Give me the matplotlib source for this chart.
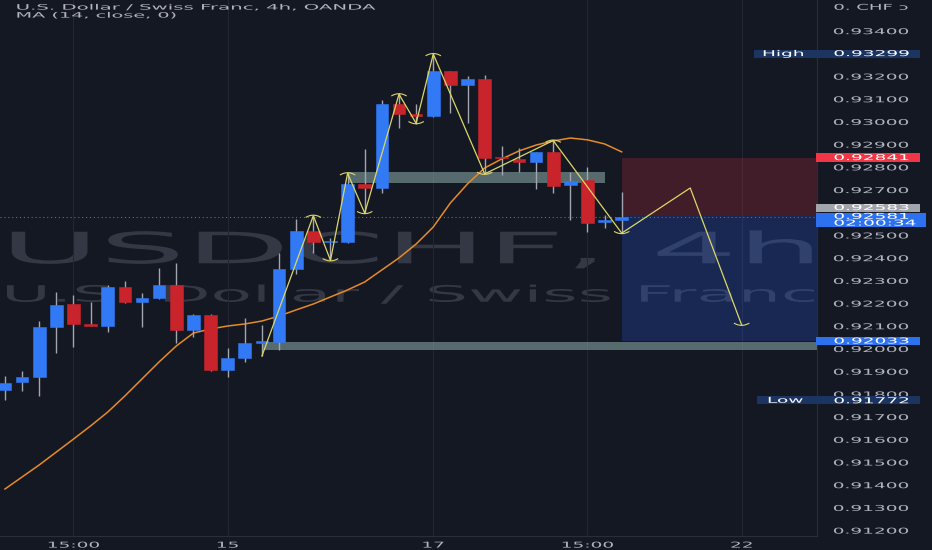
import numpy as np
import matplotlib
matplotlib.use("Agg")
import matplotlib.pyplot as plt
from matplotlib import patheffects
from matplotlib.patches import Rectangle
from matplotlib.transforms import Affine2D, IdentityTransform

# ---- values (USDCHF 4h) ----
candle_open = [0.91817, 0.91851, 0.91876, 0.92096, 0.92195, 0.92108, 0.92099, 0.92270,
               0.92204, 0.92224, 0.92280, 0.92082, 0.92149, 0.91905, 0.91960, 0.92026,
               0.92030, 0.92350, 0.92518, 0.92468, 0.92471, 0.92723, 0.92708, 0.93076,
               0.93033, 0.93024, 0.93222, 0.93161, 0.93187, 0.92839, 0.92835, 0.92823,
               0.92864, 0.92719, 0.92742, 0.92559, 0.92566]
candle_high = [0.91879, 0.91902, 0.92122, 0.92248, 0.92236, 0.92204, 0.92280, 0.92297,
               0.92243, 0.92353, 0.92378, 0.92150, 0.92150, 0.92001, 0.92136, 0.92104,
               0.92419, 0.92571, 0.92584, 0.92487, 0.92772, 0.92878, 0.93095, 0.93124,
               0.93077, 0.93299, 0.93224, 0.93200, 0.93205, 0.92892, 0.92882, 0.92864,
               0.92919, 0.92779, 0.92801, 0.92588, 0.92691]
candle_low = [0.91772, 0.91814, 0.91791, 0.91982, 0.92005, 0.92097, 0.92074, 0.92202,
              0.92096, 0.92218, 0.92026, 0.92049, 0.91903, 0.91876, 0.91939, 0.91967,
              0.91993, 0.92328, 0.92419, 0.92388, 0.92463, 0.92596, 0.92686, 0.92970,
              0.92989, 0.93021, 0.93036, 0.92992, 0.92772, 0.92764, 0.92779, 0.92701,
              0.92684, 0.92566, 0.92515, 0.92530, 0.92508]
candle_close = [0.91849, 0.91876, 0.92093, 0.92192, 0.92108, 0.92099, 0.92270, 0.92204,
                0.92224, 0.92280, 0.92082, 0.92149, 0.91905, 0.91957, 0.92026, 0.92028,
                0.92350, 0.92519, 0.92468, 0.92474, 0.92725, 0.92708, 0.93077, 0.93032,
                0.93023, 0.93222, 0.93161, 0.93187, 0.92838, 0.92837, 0.92823, 0.92864,
                0.92717, 0.92739, 0.92554, 0.92566, 0.92581]
ma14 = [0.91381, 0.91434, 0.91487, 0.91544, 0.91601, 0.91659, 0.91720, 0.91791,
        0.91866, 0.91941, 0.92011, 0.92068, 0.92086, 0.92099, 0.92108, 0.92121,
        0.92143, 0.92170, 0.92196, 0.92227, 0.92258, 0.92293, 0.92346, 0.92399,
        0.92460, 0.92535, 0.92641, 0.92725, 0.92795, 0.92835, 0.92870, 0.92896,
        0.92914, 0.92927, 0.92919, 0.92901, 0.92866]

zigzag_idx = [15, 18, 19, 20, 21, 23, 24, 25, 28, 32, 36, 40, 43]
zigzag_price = [0.91967, 0.92585, 0.92388, 0.92772, 0.92596, 0.93120, 0.92992,
                0.93297, 0.92769, 0.92916, 0.92508, 0.92707, 0.92104]
zigzag_kind = ["L", "H", "L", "H", "L", "H", "L", "H", "L", "H", "L", "H", "L"]

zone_start = [20, 15]
zone_end = [35, 47.4]
zone_top = [0.92778, 0.92030]
zone_bottom = [0.92729, 0.91995]

position_start = 36
stop_price = 0.92841
entry_price = 0.92583
target_price = 0.92033
last_price = 0.92581
countdown = "02:00:34"
high_price = 0.93299
low_price = 0.91772

price_ticks = np.round(np.arange(0.912, 0.9345, 0.001), 3)
hidden_ticks = [0.926]  # covered by the entry / last price tags
time_tick_idx = [4, 13, 25, 34, 43]
time_tick_labels = ["15:00", "15", "17", "15:00", "22"]

# ---- style ----
W, H, DPI = 932, 550, 100
BG = "#141823"
UP = "#3179f5"
DOWN = "#c9242b"
WICK = "#a3a6af"
TXT = "#b2b5be"
GRID = "#232733"
MA_C = "#e88a26"
ZZ_C = "#dcd76a"
WM = "#343844"
SMALL = 5.8
SX = 2.3


class Stretch(patheffects.AbstractPathEffect):
    """Widen text glyphs horizontally (by factor or to a target pixel width)."""

    def __init__(self, sx=None, width=None, anchor="left"):
        super().__init__()
        self.sx, self.width, self.anchor = sx, width, anchor

    def draw_path(self, renderer, gc, tpath, affine, rgbFace=None):
        ext = affine.transform_path(tpath).get_extents()
        sx = self.sx if self.width is None else self.width / max(ext.width, 1e-6)
        x0 = {"left": ext.x0, "center": (ext.x0 + ext.x1) / 2, "right": ext.x1}[self.anchor]
        t = affine + Affine2D().translate(-x0, 0).scale(sx, 1).translate(x0, 0)
        renderer.draw_path(gc, tpath, t, rgbFace)


fig = plt.figure(figsize=(W / DPI, H / DPI), dpi=DPI, facecolor=BG)
ax = fig.add_axes([0, (H - 536) / H, 817 / W, 536 / H])
ax.set_facecolor(BG)
ax.set_xlim(-0.29, 47.4)
ax.set_ylim(0.91174, 0.93535)

# watermark
ax.text(8, H - 263.3, "USDCHF, 4h", transform=IdentityTransform(), fontsize=31.2,
        color=WM, ha="left", va="baseline", zorder=0.5,
        path_effects=[Stretch(width=800)])
ax.text(5, H - 301.7, "U.S. Dollar / Swiss Franc", transform=IdentityTransform(),
        fontsize=16.3, color=WM, ha="left", va="baseline", zorder=0.5,
        path_effects=[Stretch(width=807)])

# zones
for s, e, t, b in zip(zone_start, zone_end, zone_top, zone_bottom):
    ax.add_patch(Rectangle((s, b), e - s, t - b, facecolor="#7c9898", alpha=0.65,
                           edgecolor="none", zorder=1.5))
x_end = ax.get_xlim()[1]
ax.add_patch(Rectangle((position_start, entry_price), x_end - position_start,
                       stop_price - entry_price, facecolor="#f23645", alpha=0.2,
                       edgecolor="none", zorder=1))
ax.add_patch(Rectangle((position_start, target_price), x_end - position_start,
                       entry_price - target_price, facecolor="#2962ff", alpha=0.22,
                       edgecolor="none", zorder=1))

# price line
ax.axhline(last_price, color="#6a6d78", lw=0.8, ls=(0, (1, 2.5)), zorder=1.8)

# MA
idx = np.arange(len(candle_open))
ax.plot(idx, ma14, color=MA_C, lw=1.1, zorder=2.5)

# candles
o = np.array(candle_open)
c = np.array(candle_close)
colors = np.where(c >= o, UP, DOWN)
ax.vlines(idx, candle_low, candle_high, color=WICK, lw=1.0, zorder=3)
ax.bar(idx, np.maximum(np.abs(c - o), 0.00005), bottom=np.minimum(o, c), width=0.74,
       color=colors, edgecolor=colors, lw=0.4, zorder=4)

# zigzag drawing
ax.plot(zigzag_idx, zigzag_price, color=ZZ_C, lw=0.9, zorder=6)
py = (ax.get_ylim()[1] - ax.get_ylim()[0]) / 536
u = np.linspace(-1, 1, 9)
for i, p, k in zip(zigzag_idx[1:], zigzag_price[1:], zigzag_kind[1:]):
    if i == 40:
        continue
    sgn = 1 if k == "H" else -1
    ax.plot(i + 0.42 * u, p + sgn * (0.5 - 2.0 * u ** 2) * py, color=ZZ_C, lw=0.8, zorder=6)

# axes
ax.yaxis.tick_right()
ax.set_yticks(price_ticks)
ax.set_yticklabels(["" if v in hidden_ticks else f"{v:.5f}" for v in price_ticks])
ax.set_xticks(time_tick_idx)
ax.set_xticklabels(time_tick_labels)
ax.tick_params(axis="y", length=0, pad=11.8, labelsize=SMALL, labelcolor=TXT)
ax.tick_params(axis="x", length=0, pad=3.3, labelsize=SMALL, labelcolor=TXT)
for t in ax.yaxis.get_major_ticks():
    t.label2.set_path_effects([Stretch(SX)])
for t in ax.xaxis.get_major_ticks():
    t.label1.set_path_effects([Stretch(SX, anchor="center")])
ax.grid(axis="x", color=GRID, lw=0.8)
ax.set_axisbelow(True)
for side in ["top", "left"]:
    ax.spines[side].set_visible(False)
for side in ["right", "bottom"]:
    ax.spines[side].set_color("#2a2e39")


def price_top(p):
    return H - ax.transData.transform((0, p))[1]


def box(x0, x1, y0, y1, color):
    fig.add_artist(Rectangle((x0, H - y1), x1 - x0, y1 - y0, transform=IdentityTransform(),
                             facecolor=color, edgecolor="none", zorder=5))


def label(x, y, s, color="white", width=None, size=SMALL, **kw):
    fig.text(x, H - y, s, transform=IdentityTransform(), fontsize=size, color=color,
             ha="left", va="center", zorder=6,
             path_effects=[Stretch(sx=None if width else SX, width=width)], **kw)


# header
fig.text(16.7, H - 9.6, "U.S. Dollar / Swiss Franc, 4h, OANDA", transform=IdentityTransform(),
         fontsize=5.4, color=TXT, ha="left", va="baseline",
         path_effects=[Stretch(width=358)])
fig.text(16.7, H - 17.6, "MA (14, close, 0)", transform=IdentityTransform(),
         fontsize=5.4, color=TXT, ha="left", va="baseline",
         path_effects=[Stretch(width=158)])
label(834, 7.3, "0. CHF ɔ", color=TXT, width=73)

# price scale tags
yh = price_top(high_price)
box(754, 920, yh - 4, yh + 4, "#1b3462")
label(763, yh, "High")
label(834, yh, f"{high_price:.5f}")

yl = price_top(low_price)
box(757, 920, yl - 4, yl + 4, "#1b3462")
label(768, yl, "Low")
label(834, yl + 0.5, f"{low_price:.5f}")

ys = price_top(stop_price)
box(816, 920, ys - 4.2, ys + 4.2, "#f23645")
label(834, ys, f"{stop_price:.5f}")

ye = price_top(entry_price) - 8.6
box(816, 920, ye - 4.0, ye + 4.3, "#a3a5ac")
label(834, ye, f"{entry_price:.5f}")

yc = price_top(last_price)
box(816, 926, yc - 3.3, yc + 10.7, "#2c72f0")
label(834, yc + 3.1, f"{last_price:.5f}\n{countdown}", linespacing=0.68)

yt = price_top(target_price)
box(816, 920, yt - 4.2, yt + 4.2, "#2c72f0")
label(834, yt, f"{target_price:.5f}")

fig.savefig("out.png", dpi=DPI, facecolor=BG)
